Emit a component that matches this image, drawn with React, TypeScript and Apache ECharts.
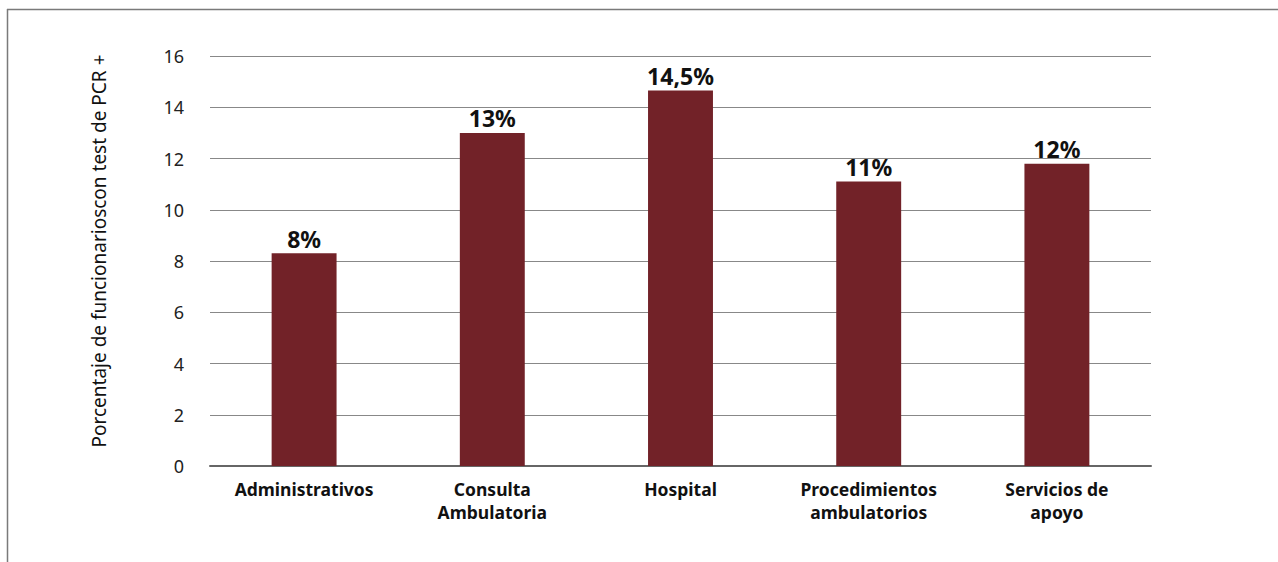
import React, { useEffect, useRef } from "react";
import * as echarts from "echarts";

const categories = [
  "Administrativos",
  "Consulta\nAmbulatoria",
  "Hospital",
  "Procedimientos\nambulatorios",
  "Servicios de\napoyo",
];
const values = [8.3, 13.0, 14.65, 11.1, 11.8];
const valueLabels = ["8%", "13%", "14,5%", "11%", "12%"];
const yTicks = { min: 0, max: 16, interval: 2 };
const yAxisTitle = "Porcentaje de funcionarioscon test de PCR +";

const FONT = "Noto Sans";

export default function App() {
  const ref = useRef<HTMLDivElement>(null);
  useEffect(() => {
    document.body.style.margin = "0";
    const chart = echarts.init(ref.current!, undefined, { renderer: "svg" });
    chart.setOption({
      animation: false,
      backgroundColor: "#ffffff",
      textStyle: { fontFamily: FONT },
      grid: { left: 210, right: 127, top: 56, bottom: 96 },
      graphic: [
        {
          type: "line",
          shape: { x1: 7, y1: 9.5, x2: 1278, y2: 9.5 },
          style: { stroke: "#7a7a7a", lineWidth: 1.5 },
        },
        {
          type: "line",
          shape: { x1: 7.5, y1: 9, x2: 7.5, y2: 562 },
          style: { stroke: "#7a7a7a", lineWidth: 1.5 },
        },
        {
          type: "text",
          x: 99,
          y: 251,
          rotation: Math.PI / 2,
          style: {
            text: yAxisTitle,
            fontFamily: FONT,
            fontSize: 19,
            fill: "#111",
            align: "center",
            verticalAlign: "middle",
          },
        },
      ],
      xAxis: {
        type: "category",
        data: categories,
        axisTick: { show: false },
        axisLine: { lineStyle: { color: "#666", width: 2 } },
        axisLabel: {
          fontFamily: FONT,
          fontWeight: "bold",
          fontSize: 17.5,
          color: "#111",
          margin: 11,
          lineHeight: 23,
        },
      },
      yAxis: {
        type: "value",
        min: yTicks.min,
        max: yTicks.max,
        interval: yTicks.interval,
        axisLine: { show: false },
        axisTick: { show: false },
        axisLabel: { fontFamily: FONT, fontSize: 18, color: "#222", margin: 26 },
        splitLine: { lineStyle: { color: "#888", width: 1 } },
      },
      series: [
        {
          type: "bar",
          data: values,
          barWidth: "34.5%",
          itemStyle: { color: "#722228" },
          label: {
            show: true,
            position: "top",
            distance: 3,
            fontFamily: FONT,
            fontWeight: "bold",
            fontSize: 23,
            color: "#111",
            formatter: (p: any) => valueLabels[p.dataIndex],
          },
        },
      ],
    });
    return () => chart.dispose();
  }, []);
  return <div ref={ref} style={{ width: 1278, height: 562 }} />;
}
